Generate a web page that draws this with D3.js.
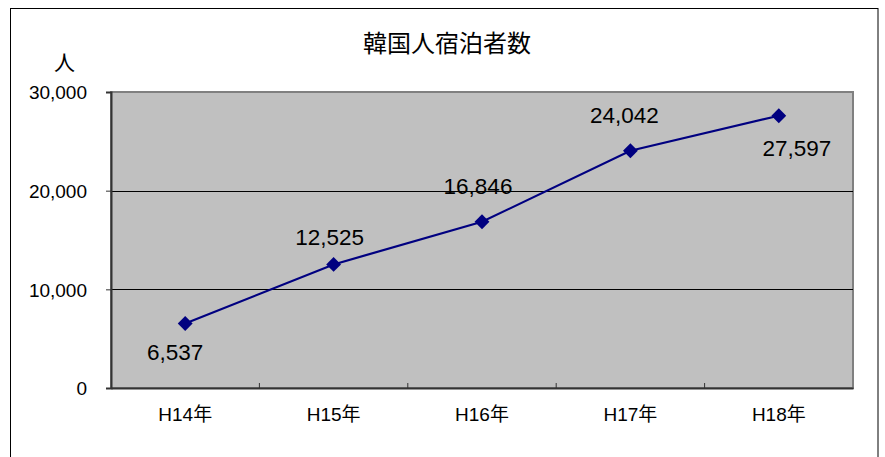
<!DOCTYPE html>
<html><head><meta charset="utf-8">
<script src="https://cdn.jsdelivr.net/npm/d3@7"></script>
<style>
body{margin:0;background:#fff;}
text{font-family:"Liberation Sans",Arial,"Noto Sans CJK JP",sans-serif;}
</style></head>
<body>
<svg id="c" width="885" height="457"></svg>
<script>
const categories = ["H14年","H15年","H16年","H17年","H18年"];
const values = [6537, 12525, 16846, 24042, 27597];
const yTicks = [0, 10000, 20000, 30000];
const title = "韓国人宿泊者数";
const yUnit = "人";
// label placement (layout only): [dx, dy baseline relative to point]
const labelOffsets = [[-10, 36], [-4, -19], [-4, -28], [-6, -28], [18, 40]];

const svg = d3.select("#c");
const m = {left:111, top:92, right:853, bottom:388};

svg.append("rect").attr("x",10.5).attr("y",8.5).attr("width",867.5).attr("height",460)
  .attr("fill","#fff").attr("stroke","#000").attr("stroke-width",1);

const x = d3.scaleBand().domain(categories).range([m.left, m.right]);
const y = d3.scaleLinear().domain([0,30000]).range([m.bottom, m.top]);

svg.append("rect").attr("x",m.left).attr("y",m.top).attr("width",m.right-m.left).attr("height",m.bottom-m.top)
  .attr("fill","#c0c0c0").attr("stroke","#808080").attr("stroke-width",2);

// gridlines
svg.append("g").selectAll("line").data(yTicks.filter(d=>d>0 && d<30000)).join("line")
  .attr("x1",m.left).attr("x2",m.right).attr("y1",d=>Math.round(y(d))+0.5).attr("y2",d=>Math.round(y(d))+0.5)
  .attr("stroke","#000").attr("stroke-width",1);

// y axis
const ya = svg.append("g").attr("transform",`translate(${m.left},0)`)
  .call(d3.axisLeft(y).tickValues(yTicks).tickFormat(d3.format(",")).tickSize(5).tickPadding(19));
ya.select(".domain").attr("stroke","#333").attr("stroke-width",2);
ya.selectAll(".tick line").attr("stroke","#333");
ya.selectAll("text").attr("font-size",19).attr("fill","#000").attr("dy","0.36em");

// x axis
const xa = svg.append("g").attr("transform",`translate(0,${m.bottom})`)
  .call(d3.axisBottom(x).tickSize(0).tickPadding(20));
xa.select(".domain").attr("stroke","#333").attr("stroke-width",2);
xa.selectAll("text").attr("font-size",19).attr("fill","#000");
// category boundary ticks (inside)
svg.append("g").selectAll("line").data(categories.slice(1)).join("line")
  .attr("x1",d=>x(d)).attr("x2",d=>x(d)).attr("y1",m.bottom).attr("y2",m.bottom-5)
  .attr("stroke","#333").attr("stroke-width",1);

// line
const cx = d => x(d) + x.bandwidth()/2;
svg.append("path").datum(values)
  .attr("d", d3.line().x((d,i)=>cx(categories[i])).y(d=>y(d)))
  .attr("fill","none").attr("stroke","#000080").attr("stroke-width",2.2);
svg.append("g").selectAll("path").data(values).join("path")
  .attr("d", d3.symbol().type(d3.symbolSquare).size(110))
  .attr("transform",(d,i)=>`translate(${cx(categories[i])},${y(d)}) rotate(45)`)
  .attr("fill","#000080");

// data labels
svg.append("g").selectAll("text").data(values).join("text")
  .attr("x",(d,i)=>cx(categories[i]) + labelOffsets[i][0])
  .attr("y",(d,i)=>y(d) + labelOffsets[i][1])
  .attr("text-anchor","middle").attr("font-size",22.5).attr("fill","#000")
  .text(d=>d3.format(",")(d));

svg.append("text").attr("x",447).attr("y",52).attr("text-anchor","middle")
  .attr("font-size",24).attr("fill","#000").text(title);
svg.append("text").attr("x",64.5).attr("y",70).attr("text-anchor","middle")
  .attr("font-size",21).attr("fill","#000").text(yUnit);
</script>
</body></html>
